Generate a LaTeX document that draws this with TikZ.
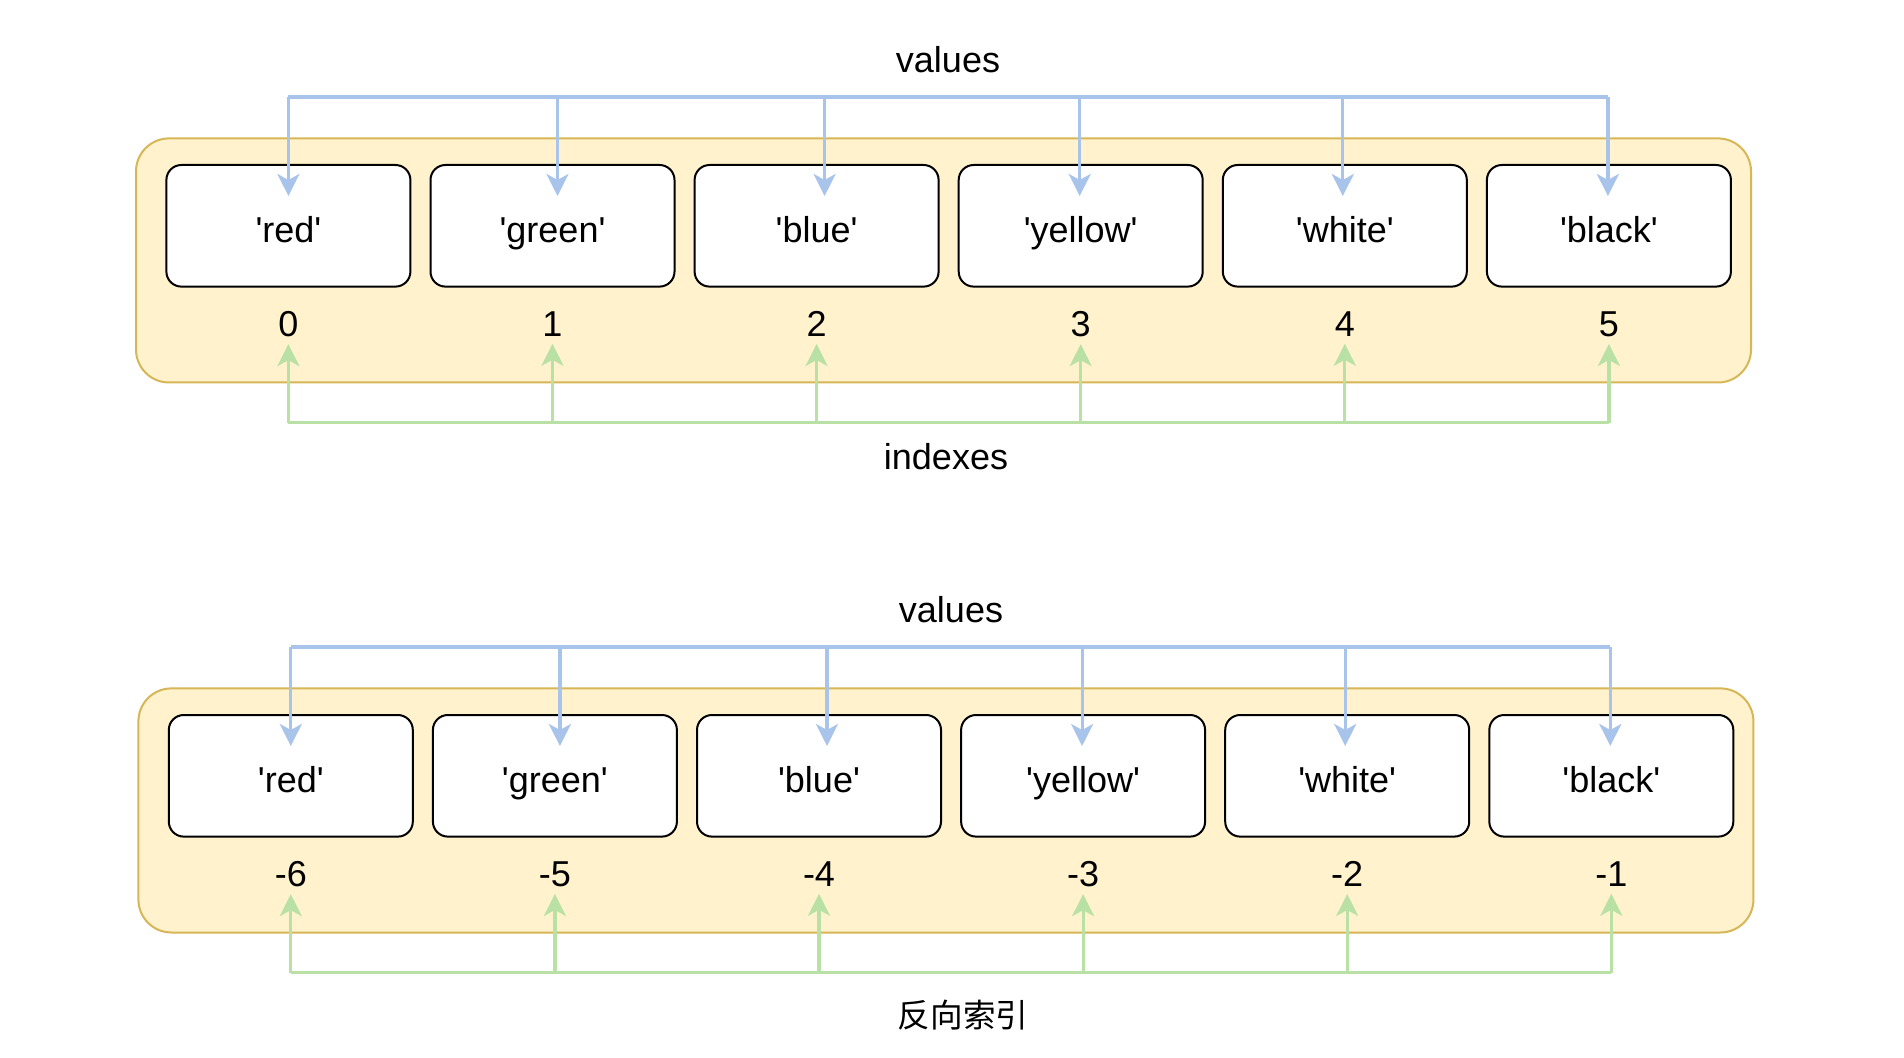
\documentclass[tikz,border=0pt]{standalone}
\usepackage{fontspec}
\setmainfont{Liberation Sans}[Ligatures=TeXOff]
\newfontfamily\cjkfont{Noto Sans CJK SC}
\usetikzlibrary{arrows.meta}
\definecolor{valblue}{HTML}{A9C4EB}
\definecolor{idxgreen}{HTML}{B9E0A5}
\definecolor{panelfill}{HTML}{FFF2CC}
\definecolor{paneldraw}{HTML}{D6B656}
\tikzset{
  panel/.style={fill=panelfill, draw=paneldraw, line width=1pt, rounded corners=16.5pt},
  cell/.style={draw, fill=white, line width=1pt, rounded corners=7.5pt,
    minimum width=122pt, minimum height=60.8pt, text height=16.5pt, text depth=0pt},
  idx/.style={inner sep=3.5pt},
  vbus/.style={valblue, line width=1.6pt},
  ibus/.style={idxgreen, line width=1.6pt},
  varrow/.style={vbus, -{Stealth[length=11pt,width=11pt,inset=3pt]}},
  iarrow/.style={ibus, -{Stealth[length=11pt,width=11pt,inset=3pt]}}
}

\begin{document}
\begin{tikzpicture}[x=0.5pt, y=-0.5pt, every node/.style={font=\fontsize{18}{21}\selectfont}]
  \useasboundingbox (0,0) rectangle (1904,1058);

  % positive indexes
  \begin{scope}
    \draw[panel] (136,138.4) rectangle (1751,382.5);
    \node (avals) at (948,59.5) {values};
    \node (aidx) at (946,456.6) {indexes};
    \coordinate (avb) at (0,97);
    \coordinate (agb) at (0,422.6);
    \foreach \n/\t/\k/\d in {0/red/0/0pt, 1/green/1/2.5pt, 2/blue/2/4pt,
                             3/yellow/3/-0.5pt, 4/white/4/-1pt, 5/black/5/-0.5pt} {
      \node[cell] (av\n) at (288.4+264.1*\n, 225.8) {'\t'};
      \node[idx] (ai\n) at (288.4+264.1*\n, 324) {\k};
      \draw[varrow] ([xshift=\d]avb -| av\n) -- ([xshift=\d, yshift=-16pt]av\n.north);
      \draw[iarrow] (agb -| ai\n) -- (ai\n.south);
    }
    \draw[vbus] (avb -| av0) -- ([xshift=-0.5pt]avb -| av5);
    \draw[ibus] (agb -| ai0) -- (agb -| ai5);
  \end{scope}

  % negative indexes
  \begin{scope}[shift={(2.4,550)}]
    \draw[panel] (136,138.4) rectangle (1751,382.5);
    \node (bvals) at (948.6,59.5) {values};
    \node (bidx) at (960.6,465) {\cjkfont\fontsize{16.3}{20}\selectfont 反向索引};
    \coordinate (bvb) at (0,97);
    \coordinate (bgb) at (0,422.6);
    \foreach \n/\t/\k/\d in {0/red/-6/0pt, 1/green/-5/2.5pt, 2/blue/-4/4pt,
                             3/yellow/-3/-0.5pt, 4/white/-2/-1pt, 5/black/-1/-0.5pt} {
      \node[cell] (bv\n) at (288.4+264.1*\n, 225.8) {'\t'};
      \node[idx] (bi\n) at (288.4+264.1*\n, 324) {\k};
      \draw[varrow] ([xshift=\d]bvb -| bv\n) -- ([xshift=\d, yshift=-16pt]bv\n.north);
      \draw[iarrow] (bgb -| bi\n) -- (bi\n.south);
    }
    \draw[vbus] (bvb -| bv0) -- ([xshift=-0.5pt]bvb -| bv5);
    \draw[ibus] (bgb -| bi0) -- (bgb -| bi5);
  \end{scope}
\end{tikzpicture}
\end{document}
